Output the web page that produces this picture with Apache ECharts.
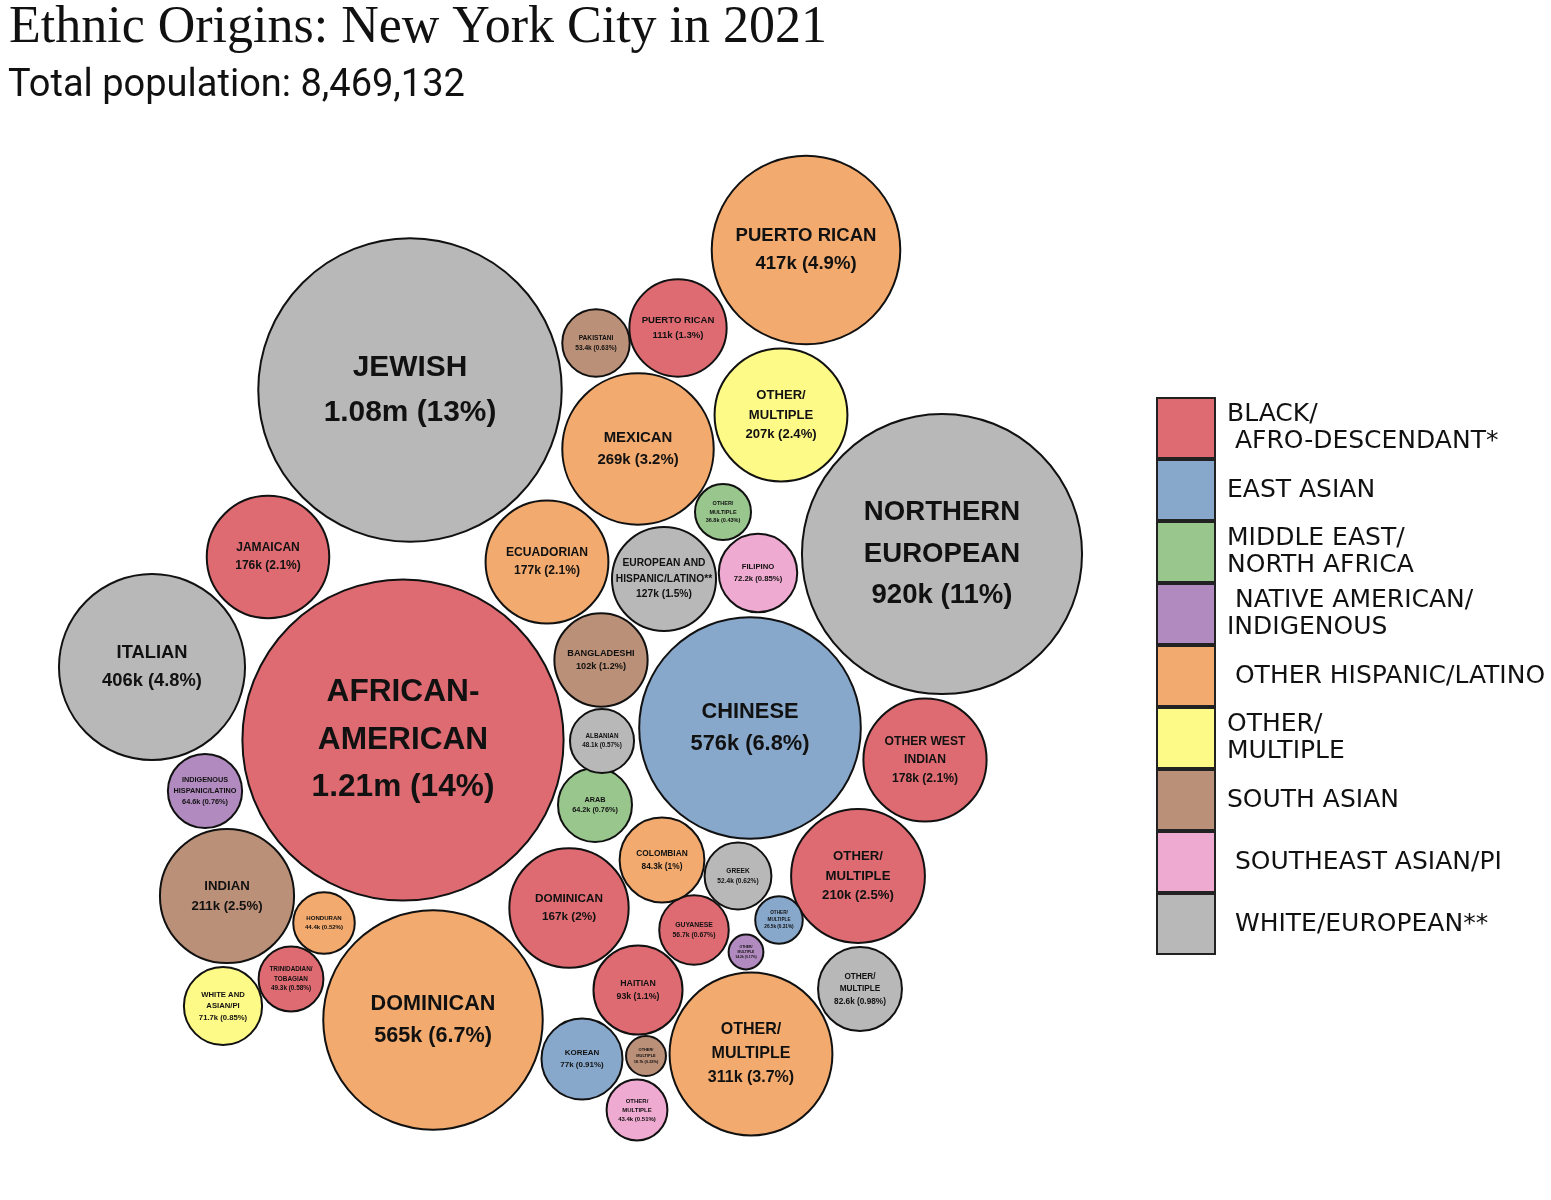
<!DOCTYPE html>
<html>
<head>
<meta charset="utf-8">
<script src="https://cdn.jsdelivr.net/npm/echarts@6/dist/echarts.min.js"></script>
<style>
  html, body { margin: 0; padding: 0; background: #fff; }
  #container { width: 1551px; height: 1200px; }
</style>
</head>
<body>
<div id="container"></div>
<script>
var dom = document.getElementById("container")
var myChart = echarts.init(dom)

// groups (legend order) and their fill colours
var groups = [
    "BLACK/AFRO-DESCENDANT*", "EAST ASIAN", "MIDDLE EAST/NORTH AFRICA",
    "NATIVE AMERICAN/INDIGENOUS", "OTHER HISPANIC/LATINO", "OTHER/MULTIPLE",
    "SOUTH ASIAN", "SOUTHEAST ASIAN/PI", "WHITE/EUROPEAN**"
]
var legendText = [
    "BLACK/\n AFRO-DESCENDANT*", "EAST ASIAN", "MIDDLE EAST/\nNORTH AFRICA",
    " NATIVE AMERICAN/\nINDIGENOUS", " OTHER HISPANIC/LATINO", "OTHER/\nMULTIPLE",
    "SOUTH ASIAN", " SOUTHEAST ASIAN/PI", " WHITE/EUROPEAN**"
]
var groupColors = ["#de6b72", "#87a7cb", "#99c68d", "#b18bbf", "#f2aa6e",
    "#fefa87", "#bb9078", "#eeaad0", "#b8b8b8"]

// bubbles: name, group index, population, label text
var names = [
    "AFRICAN-\nAMERICAN", "JEWISH", "NORTHERN\nEUROPEAN", "CHINESE", "DOMINICAN",
    "PUERTO RICAN", "ITALIAN", "OTHER/\nMULTIPLE", "MEXICAN", "INDIAN",
    "OTHER/\nMULTIPLE", "OTHER/\nMULTIPLE", "OTHER WEST\nINDIAN", "ECUADORIAN", "JAMAICAN",
    "DOMINICAN", "EUROPEAN AND\nHISPANIC/LATINO**", "PUERTO RICAN", "BANGLADESHI", "HAITIAN",
    "COLOMBIAN", "OTHER/\nMULTIPLE", "KOREAN", "FILIPINO", "WHITE AND\nASIAN/PI",
    "INDIGENOUS\nHISPANIC/LATINO", "ARAB", "GUYANESE", "PAKISTANI", "GREEK",
    "TRINIDADIAN/\nTOBAGIAN", "ALBANIAN", "HONDURAN", "OTHER/\nMULTIPLE", "OTHER/\nMULTIPLE",
    "OTHER/\nMULTIPLE", "OTHER/\nMULTIPLE", "OTHER/\nMULTIPLE"
]
var groupOf = [
    0, 8, 8, 1, 4,
    4, 8, 4, 4, 6,
    0, 5, 0, 4, 0,
    0, 8, 0, 6, 0,
    4, 8, 1, 7, 5,
    3, 2, 0, 6, 8,
    0, 8, 4, 7, 2,
    1, 6, 3
]
var population = [
    1210000, 1080000, 920000, 576000, 565000,
    417000, 406000, 311000, 269000, 211000,
    210000, 207000, 178000, 177000, 176000,
    167000, 127000, 111000, 102000, 93000,
    84300, 82600, 77000, 72200, 71700,
    64600, 64200, 56700, 53400, 52400,
    49300, 48100, 44400, 43400, 36800,
    26500, 18700, 14200
]
var shareText = [
    "1.21m (14%)", "1.08m (13%)", "920k (11%)", "576k (6.8%)", "565k (6.7%)",
    "417k (4.9%)", "406k (4.8%)", "311k (3.7%)", "269k (3.2%)", "211k (2.5%)",
    "210k (2.5%)", "207k (2.4%)", "178k (2.1%)", "177k (2.1%)", "176k (2.1%)",
    "167k (2%)", "127k (1.5%)", "111k (1.3%)", "102k (1.2%)", "93k (1.1%)",
    "84.3k (1%)", "82.6k (0.98%)", "77k (0.91%)", "72.2k (0.85%)", "71.7k (0.85%)",
    "64.6k (0.76%)", "64.2k (0.76%)", "56.7k (0.67%)", "53.4k (0.63%)", "52.4k (0.62%)",
    "49.3k (0.58%)", "48.1k (0.57%)", "44.4k (0.52%)", "43.4k (0.51%)", "36.8k (0.43%)",
    "26.5k (0.31%)", "18.7k (0.22%)", "14.2k (0.17%)"
]

// packed layout, bubble centres
var packX = [
    403, 410, 942, 750, 433,
    806, 152, 751, 638, 227,
    858, 781, 925, 547, 268,
    569, 664, 678, 601, 638,
    662, 860, 582, 758, 223,
    205, 595, 694, 596, 738,
    291, 602, 324, 637, 723,
    779, 646, 746
]
var packY = [
    740, 390, 554, 728, 1020,
    250, 667, 1054, 449, 896,
    876, 415, 760, 562, 557,
    908, 579, 328, 660, 990,
    860, 989, 1059, 573, 1006,
    791, 805, 930, 343, 876,
    979, 741, 923, 1110, 512,
    920, 1056, 952
]

// bubble area proportional to population
function bubbleSize(pop) {
    return 292 * Math.sqrt(pop / 1e6)
}

var series = []
for (var g = 0; g < groups.length; g++) {
    var data = []
    for (var i = 0; i < names.length; i++) {
        if (groupOf[i] != g) continue
        var r = bubbleSize(population[i]) / 2
        var fs = Math.max(2.5, r * 0.197)
        data.push({
            name: names[i].replace("\n", " "),
            value: [packX[i], packY[i], population[i]],
            label: {
                formatter: names[i] + "\n" + shareText[i],
                fontSize: fs,
                lineHeight: fs * 1.5
            }
        })
    }
    series.push({
        name: groups[g],
        type: "scatter",
        symbol: "circle",
        symbolSize: function (val) { return bubbleSize(val[2]) },
        itemStyle: { color: groupColors[g], borderColor: "#111", borderWidth: 2, opacity: 1 },
        label: {
            show: true,
            position: "inside",
            color: "#111",
            fontFamily: "Liberation Sans, Arial, sans-serif",
            fontWeight: "bold",
            align: "center"
        },
        emphasis: { disabled: true },
        data: data
    })
}

var option = {
    animation: false,
    backgroundColor: "#fff",
    title: [{
        text: "Ethnic Origins: New York City in 2021",
        left: 4, top: -3,
        textStyle: { fontFamily: "Liberation Serif, serif", fontWeight: "normal", fontSize: 52, color: "#111" }
    }, {
        text: "Total population: 8,469,132",
        left: 3, top: 62,
        textStyle: { fontFamily: "Roboto, sans-serif", fontWeight: "normal", fontSize: 38, color: "#111" }
    }],
    legend: {
        orient: "vertical",
        left: 1151, top: 392,
        itemWidth: 58, itemHeight: 60, itemGap: 0,
        icon: "rect",
        selectedMode: false,
        data: groups,
        formatter: function (name) { return legendText[groups.indexOf(name)] },
        itemStyle: { borderColor: "#222", borderWidth: 2 },
        textStyle: { fontFamily: "DejaVu Sans, sans-serif", fontSize: 25, lineHeight: 27, color: "#111", padding: [4, 0, 0, 7] }
    },
    grid: { left: 0, right: 0, top: 0, bottom: 0 },
    xAxis: { type: "value", min: 0, max: 1551, show: false },
    yAxis: { type: "value", min: 0, max: 1200, inverse: true, show: false },
    series: series
}

myChart.setOption(option)
</script>
</body>
</html>
